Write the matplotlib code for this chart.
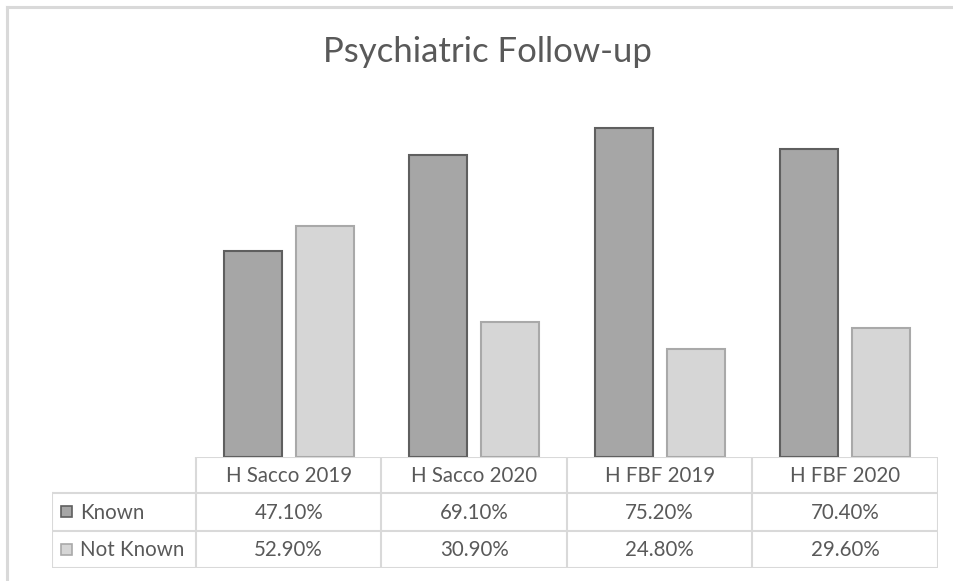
import numpy as np
import matplotlib
matplotlib.use("Agg")
from matplotlib import pyplot as plt
from matplotlib.patches import Rectangle

plt.rcParams['font.family'] = ['Lato', 'DejaVu Sans']

#data
categories = ['H Sacco 2019', 'H Sacco 2020', 'H FBF 2019', 'H FBF 2020']
series_names = ['Known', 'Not Known']
known = [47.1, 69.1, 75.2, 70.4]
not_known = [52.9, 30.9, 24.8, 29.6]

W, H = 954, 581
fig = plt.figure(figsize=(W/100, H/100), dpi=100)
fig.patch.set_facecolor('white')

def px_box(x0, y0, x1, y1):
    # pixel box (top-left origin) -> figure fraction rect
    return [x0/W, 1 - y1/H, (x1-x0)/W, (y1-y0)/H]

txt = '#595959'
grid_c = '#d9d9d9'
fills = ['#a6a6a6', '#d6d6d6']
edges = ['#5f5f5f', '#a9a9a9']

# outer chart frame (cropped at right and bottom)
fig.add_artist(plt.Line2D([7/W, 7/W], [0, 1 - 7/H], color=grid_c, lw=2.2))
fig.add_artist(plt.Line2D([7/W, 1], [1 - 7/H, 1 - 7/H], color=grid_c, lw=2.2))

# bars
ax = fig.add_axes(px_box(196, 107, 938, 457))
x = np.arange(len(categories))
bw = 0.313
off = 0.195
ax.bar(x - off, known, bw, color=fills[0], edgecolor=edges[0], linewidth=1.5)
ax.bar(x + off, not_known, bw, color=fills[1], edgecolor=edges[1], linewidth=1.5)
ax.set_xlim(-0.5, len(categories) - 0.5)
ax.set_ylim(0, 80)
ax.axis('off')

fig.text(487/W, 1 - 52/H, 'Psychiatric Follow-up', ha='center', va='center',
         fontsize=25, color=txt)

# data table
tx = fig.add_axes(px_box(52, 457, 938, 568))
tx.set_xlim(52, 938)
tx.set_ylim(568, 457)
tx.axis('off')
col_x = [196 + i*185.5 for i in range(len(categories) + 1)]
row_y = [457, 493, 531, 568]
lc = dict(color=grid_c, lw=1.5, solid_capstyle='projecting')
# horizontal lines
tx.plot([196, 938], [row_y[0]]*2, **lc)
for yy in row_y[1:]:
    tx.plot([52, 938], [yy]*2, **lc)
# vertical lines
for xx in col_x:
    tx.plot([xx, xx], [row_y[0], row_y[-1]], **lc)
tx.plot([52, 52], [row_y[1], row_y[-1]], **lc)

fs = 14.8
for i, c in enumerate(categories):
    cx = (col_x[i] + col_x[i+1]) / 2
    tx.text(cx, (row_y[0] + row_y[1]) / 2 + 1, c, ha='center', va='center',
            fontsize=fs, color=txt)
    for r, vals in enumerate([known, not_known]):
        tx.text(cx, (row_y[r+1] + row_y[r+2]) / 2 + 1, '%.2f%%' % vals[i],
                ha='center', va='center', fontsize=fs, color=txt)

for r, name in enumerate(series_names):
    cy = (row_y[r+1] + row_y[r+2]) / 2
    tx.add_patch(Rectangle((61, cy - 6), 11, 11, facecolor=fills[r],
                           edgecolor=edges[r], lw=1.2))
    tx.text(80, cy + 1, name, ha='left', va='center', fontsize=fs, color=txt)

fig.savefig('out.png', dpi=100, facecolor='white')
